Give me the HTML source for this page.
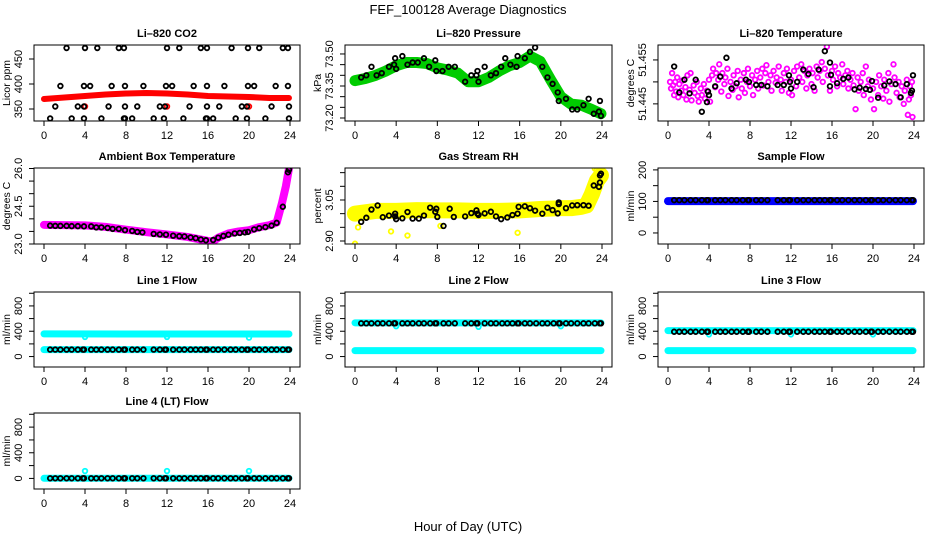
<!DOCTYPE html>
<html><head><meta charset="utf-8"><style>
html,body{margin:0;padding:0;background:#fff;}
svg{display:block;font-family:"Liberation Sans",sans-serif;}
</style></head><body>
<svg id="fig" width="936" height="540" viewBox="0 0 936 540" xmlns="http://www.w3.org/2000/svg">
<rect width="936" height="540" fill="#fff"/>
<text x="468" y="14" text-anchor="middle" font-size="13">FEF_100128  Average Diagnostics</text>
<text x="468" y="531" text-anchor="middle" font-size="13">Hour of Day (UTC)</text>
</svg>
<script>
const xTicks=[0,4,8,12,16,20,24];
const flowHours=[0.6,1.1,1.6,2.2,2.7,3.3,3.8,3.9,4.6,5.1,5.6,6.2,6.7,7.3,7.8,7.9,8.6,9.1,9.7,10.7,11.3,11.8,11.9,12.6,13.2,13.7,14.3,14.8,15.3,15.8,15.9,16.5,17.0,17.6,18.2,18.7,19.3,19.8,19.9,20.5,21.0,21.6,22.2,22.7,23.3,23.8,23.9];
// CO2
const co2RedHours=[0,2,4,6,8,10,12,14,16,18,20,22,23.9];
const co2RedVals=[370,373,376,379,381,382,381,379,376,375,374,372,372];
const co2RedPtsHours=[4,12,20];
const co2RedPtsVals=[355,355,355];
const co2BlackHours=[2.2,4,5.2,7.3,7.8,12,13.2,15.3,15.9,18.3,19.9,21,23.3,23.8,1.6,3.9,4.5,6.6,7.9,9.7,11.9,12.5,14.6,15.9,17.6,19.9,20.5,22.6,23.8,1.1,3.3,3.9,6.3,7.9,9.1,11.3,11.8,14.2,15.9,17.1,19.3,19.8,22.2,23.9,0.6,2.7,3.9,5.6,7.8,7.9,8.6,10.7,11.7,13.6,15.8,15.9,16.5,18.7,19.8,21.6,23.9];
const co2BlackVals=[472,472,472,472,472,472,472,472,472,472,472,472,472,472,396,396,396,396,396,396,396,396,396,396,396,396,396,396,396,355,355,355,355,355,355,355,355,355,355,355,355,355,355,355,331,331,331,331,331,331,331,331,331,331,331,331,331,331,331,331,331];
// Pressure
const presHours=[0,1,2,3,4,5,6,7,8,9,10,11,12,13,14,15,16,17,18,19,20,21,22,23,23.9];
const presVals=[73.375,73.385,73.40,73.42,73.445,73.46,73.46,73.455,73.435,73.425,73.41,73.37,73.37,73.39,73.42,73.445,73.46,73.49,73.465,73.38,73.30,73.265,73.26,73.24,73.22];
const presBlackHours=[0.6,1.1,1.6,2.1,2.6,3.3,3.8,3.9,4,4.6,5.1,5.6,6.1,6.7,7.2,7.8,7.9,8.5,9.1,9.7,10.7,11.3,11.8,11.9,12,12.6,13.2,13.7,14.2,14.6,15.1,15.7,15.8,16.5,17,17.5,18.2,18.7,19.2,19.7,19.8,20.5,21.1,21.6,22.2,22.7,23.2,23.7,23.8,23.9];
const presBlackVals=[73.39,73.40,73.44,73.40,73.41,73.44,73.45,73.48,73.43,73.49,73.45,73.46,73.46,73.48,73.44,73.47,73.42,73.42,73.44,73.44,73.37,73.40,73.40,73.42,73.37,73.44,73.40,73.41,73.44,73.48,73.45,73.44,73.49,73.48,73.51,73.53,73.44,73.39,73.36,73.32,73.28,73.29,73.24,73.24,73.26,73.29,73.22,73.23,73.28,73.21];
// Li-820 temperature
const tempMagHours=[0.2,0.3,0.4,0.5,0.6,0.7,0.8,0.9,1.0,1.1,1.3,1.4,1.5,1.7,1.8,1.9,2.1,2.2,2.3,2.5,2.6,2.8,2.9,3.0,3.2,3.3,3.5,3.6,3.8,4.0,4.1,4.3,4.4,4.6,4.7,4.9,5.0,5.2,5.3,5.5,5.6,5.8,5.9,6.1,6.3,6.4,6.6,6.8,6.9,7.1,7.2,7.4,7.5,7.7,7.8,8.0,8.2,8.3,8.5,8.7,8.8,9.0,9.2,9.3,9.5,9.6,9.8,10.0,10.1,10.3,10.5,10.6,10.8,11.0,11.1,11.3,11.5,11.6,11.8,12.0,12.1,12.3,12.5,12.6,12.8,13.0,13.1,13.3,13.5,13.6,13.8,14.0,14.1,14.3,14.5,14.6,14.8,15.0,15.1,15.3,15.5,15.6,15.8,16.0,16.1,16.3,16.5,16.6,16.8,17.0,17.1,17.3,17.5,17.6,17.8,18.0,18.1,18.3,18.5,18.6,18.8,19.0,19.1,19.3,19.5,19.6,19.8,20.0,20.1,20.3,20.5,20.6,20.8,21.0,21.1,21.3,21.5,21.6,21.8,22.0,22.1,22.3,22.5,22.6,22.8,23.0,23.1,23.3,23.4,23.5,23.6,23.7,23.8,23.85];
const tempMagVals=[51.4500,51.4485,51.4520,51.4492,51.4470,51.4500,51.4478,51.4510,51.4465,51.4495,51.4480,51.4503,51.4470,51.4488,51.4460,51.4515,51.4482,51.4520,51.4458,51.4492,51.4475,51.4500,51.4468,51.4455,51.4485,51.4470,51.4495,51.4462,51.4480,51.4505,51.4455,51.4515,51.4530,51.4488,51.4520,51.4505,51.4540,51.4478,51.4520,51.4495,51.4510,51.4530,51.4468,51.4500,51.4482,51.4515,51.4490,51.4525,51.4465,51.4505,51.4485,51.4520,51.4475,51.4500,51.4530,51.4490,51.4515,51.4470,51.4505,51.4525,51.4485,51.4510,51.4530,51.4492,51.4520,51.4538,51.4500,51.4515,51.4480,51.4525,51.4498,51.4510,51.4535,51.4505,51.4480,51.4520,51.4500,51.4530,51.4475,51.4505,51.4470,51.4525,51.4490,51.4535,51.4510,51.4540,51.4500,51.4525,51.4485,51.4515,51.4530,51.4495,51.4520,51.4480,51.4535,51.4510,51.4525,51.4545,51.4500,51.4530,51.4580,51.4515,51.4480,51.4525,51.4505,51.4535,51.4490,51.4520,51.4510,51.4540,51.4495,51.4515,51.4525,51.4485,51.4505,51.4520,51.4492,51.4438,51.4510,51.4480,51.4500,51.4520,51.4470,51.4535,51.4490,51.4505,51.4460,51.4485,51.4438,51.4500,51.4470,51.4515,51.4490,51.4462,51.4505,51.4480,51.4520,51.4455,51.4495,51.4540,51.4510,51.4475,51.4500,51.4465,51.4490,51.4450,51.4480,51.4505,51.4425,51.4460,51.4490,51.4470,51.4500,51.4420];
const tempBlackHours=[0.6,1.1,1.6,2.1,2.7,3.3,3.8,3.9,4.0,4.6,5.1,5.7,6.2,6.7,7.6,7.9,8.6,9.1,9.7,10.7,11.3,11.8,11.9,12,12.6,13.2,13.7,14.2,14.7,15.3,15.8,15.9,15.8,16.5,17.1,17.6,18.2,18.7,19.3,19.7,19.9,20.5,21.1,21.6,22.2,22.7,23.3,23.7,23.8,23.9];
const tempBlackVals=[51.4535,51.4476,51.4505,51.4474,51.4505,51.4432,51.4454,51.4478,51.4470,51.4490,51.4512,51.4555,51.4485,51.4497,51.4505,51.4500,51.4493,51.4493,51.4490,51.4493,51.4493,51.4515,51.4500,51.4485,51.4500,51.4528,51.4518,51.4488,51.4528,51.4570,51.4544,51.4516,51.4490,51.4497,51.4507,51.4510,51.4483,51.4487,51.4484,51.4482,51.4502,51.4464,51.4492,51.4501,51.4495,51.4465,51.4495,51.4475,51.4480,51.4515];
// Ambient
const ambHours=[0,2,4,6,8,10,12,14,16,16.5,17,18,19,20,21,22,22.7,23.2,23.6,23.9];
const ambVals=[23.76,23.75,23.74,23.68,23.57,23.47,23.38,23.28,23.12,23.1,23.25,23.42,23.5,23.55,23.67,23.75,23.85,24.6,25.3,26.0];
const ambBlackHours=[0.6,1.1,1.6,2.2,2.7,3.3,3.9,4.6,5.1,5.6,6.2,6.7,7.3,7.9,8.6,9.1,9.6,10.7,11.3,11.9,12.6,13.2,13.7,14.3,14.8,15.3,15.8,16.5,17.0,17.5,18.0,18.6,19.1,19.6,19.9,20.5,21.0,21.6,22.2,22.7,23.3,23.8,23.9];
const ambBlackVals=[23.73,23.72,23.72,23.72,23.71,23.71,23.7,23.7,23.66,23.66,23.64,23.6,23.6,23.55,23.52,23.48,23.46,23.4,23.38,23.37,23.33,23.31,23.3,23.26,23.23,23.18,23.15,23.16,23.25,23.32,23.37,23.42,23.44,23.46,23.48,23.58,23.63,23.67,23.73,23.84,24.48,25.85,25.95];
// RH
const rhHours=[0,2,4,6,8,10,12,14,16,18,20,21,22,22.5,23,23.5,23.9];
const rhVals=[3.0,3.01,3.01,3.013,3.012,3.012,3.01,3.01,3.012,3.017,3.02,3.02,3.025,3.03,3.07,3.12,3.14];
const rhYelPtsHours=[0,0.3,3.5,5.1,8.3,15.8,23.3,23.5,22.7,23.0];
const rhYelPtsVals=[2.89,2.95,2.935,2.92,2.955,2.93,3.165,3.16,3.06,3.09];
const rhBlackHours=[0.6,1.1,1.6,2.2,2.7,3.3,3.9,3.9,4,4.6,5.1,5.6,6.2,6.7,7.3,7.8,7.9,8.0,8.6,9.2,9.6,10.7,11.3,11.8,11.9,12.0,12.6,13.2,13.7,14.2,14.8,15.3,15.8,15.9,16.5,17,17.5,18.2,18.7,19.2,19.7,19.8,19.8,20.5,21.1,21.6,22.2,22.7,23.2,23.7,23.8,23.9,23.8];
const rhBlackVals=[2.97,2.985,3.015,3.03,2.987,2.993,2.99,3.0,2.98,2.983,3.006,2.982,2.982,2.993,3.022,3.007,3.018,2.988,2.955,3.018,2.988,2.99,3.002,3.012,3.0,2.995,3.001,3.007,2.99,2.98,2.986,2.995,3.0,3.025,3.027,3.02,3.011,3.0,3.022,3.013,3.001,3.035,3.041,3.02,3.03,3.031,3.031,3.029,3.103,3.098,3.114,3.146,3.14];
// Flows
const sampleBlueVals=[101,101];
const sampleBlackLevel=[104];
const line1CyanHi=[358,356];
const line1CyanLo=[110,110];
const line1Black=[110];
const line1Dips=[310,310,300];
const line2CyanHi=[533,533];
const line2CyanLo=[94,94];
const line2Black=[525];
const line2Dips=[480,470,480];
const line3CyanHi=[410,410];
const line3CyanLo=[94,94];
const line3Black=[392];
const line3Dips=[350,350,350];
const line4Cyan=[2,2];
const line4Black=[2];
const line4Outliers=[115,115,115];
const dipHours=[4,12,20];
const bandEnds=[0,23.9];

const NS="http://www.w3.org/2000/svg";
const svg=document.getElementById('fig');
function mk(tag,attrs,parent){const e=document.createElementNS(NS,tag);for(const k in attrs)e.setAttribute(k,attrs[k]);(parent||svg).appendChild(e);return e;}

function panel(cfg){
  const g=mk('g',{});
  
  
  const [L,T,R,B]=cfg.box;
  const xs=h=>L+10+(h/24)*(R-L-20);
  const ys=v=>B-(v-cfg.yMin)/(cfg.yMax-cfg.yMin)*(B-T);
  const clip='c'+cfg.name;
  const cp=mk('clipPath',{id:clip},g);mk('rect',{x:L,y:T,width:R-L,height:B-T},cp);
  const plot=mk('g',{'clip-path':'url(#'+clip+')'},g);
  cfg.layers.forEach(ly=>{
    if(ly.type==='band'){
      const pts=ly.h.map((h,i)=>xs(h)+','+ys(ly.v[i])).join(' ');
      const pl=mk('polyline',{points:pts,fill:'none',stroke:ly.color,'stroke-width':ly.w,'stroke-linecap':'round','stroke-linejoin':'round'},plot);
      
      
    } else {
      ly.h.forEach((h,i)=>{
        const c=mk('circle',{cx:xs(h),cy:ys(ly.v[i]),r:2.3,fill:'none',stroke:ly.color,'stroke-width':1.8},plot);
        
        
      });
    }
  });
  const box=mk('rect',{x:L,y:T,width:R-L,height:B-T,fill:'none',stroke:'#000','stroke-width':1},g);
  
  
  xTicks.forEach(t=>{
    mk('line',{x1:xs(t),x2:xs(t),y1:B,y2:B+5,stroke:'#000'},g);
    const tx=mk('text',{x:xs(t),y:B+18,'text-anchor':'middle','font-size':11},g);
    tx.textContent=t;
    
    
  });
  cfg.yTicks.forEach(t=>mk('line',{x1:L-5,x2:L,y1:ys(t),y2:ys(t),stroke:'#000'},g));
  cfg.yLabels.forEach((t,i)=>{
    const y=ys(t);
    const tx=mk('text',{x:L-12,y:y,'text-anchor':'middle','font-size':11,transform:'rotate(-90 '+(L-12)+' '+y+')'},g);
    tx.textContent=cfg.yLabelText[i];
    
    
  });
  const yc=(T+B)/2;
  const yt=mk('text',{x:L-24,y:yc,'text-anchor':'middle','font-size':10.5,transform:'rotate(-90 '+(L-24)+' '+yc+')'},g);
  yt.textContent=cfg.ylab;
  
  
  const ti=mk('text',{x:(L+R)/2,y:T-8,'text-anchor':'middle','font-size':11,'font-weight':'bold'},g);
  ti.textContent=cfg.title;
  
  
}
const C1=[34,300],C2=[345,612],C3=[658,924];
const R1=[45,121],R2=[168,244],R3=[292,367],R4=[413,489];
const fb=(c,r)=>[c[0],r[0],c[1],r[1]];
const rep=(a,n)=>Array(n).fill(a[0]);
const flowTicks=[0,200,400,600,800,1000];

panel({name:'co2-panel',title:'Li\u2013820 CO2',ylab:'Licor ppm',box:fb(C1,R1),yMin:326,yMax:478,
 yTicks:[350,400,450],yLabels:[350,400,450],yLabelText:['350','400','450'],
 layers:[{type:'band',h:co2RedHours,v:co2RedVals,color:'#f00',w:6,label:'co2-series'},
  {type:'pts',h:co2RedPtsHours,v:co2RedPtsVals,color:'#f00',label:'co2-point'},
  {type:'pts',h:co2BlackHours,v:co2BlackVals,color:'#000',label:'co2-avg-point'}]});
panel({name:'pressure-panel',title:'Li\u2013820 Pressure',ylab:'kPa',box:fb(C2,R1),yMin:73.186,yMax:73.542,
 yTicks:[73.2,73.25,73.3,73.35,73.4,73.45,73.5],yLabels:[73.2,73.35,73.5],yLabelText:['73.20','73.35','73.50'],
 layers:[{type:'band',h:presHours,v:presVals,color:'#0c0',w:11,label:'pressure-series'},
  {type:'pts',h:presBlackHours,v:presBlackVals,color:'#000',label:'pressure-avg-point'}]});
panel({name:'li820-temp-panel',title:'Li\u2013820 Temperature',ylab:'degrees C',box:fb(C3,R1),yMin:51.4411,yMax:51.4584,
 yTicks:[51.445,51.45,51.455],yLabels:[51.445,51.455],yLabelText:['51.445','51.455'],
 layers:[{type:'pts',h:tempMagHours,v:tempMagVals,color:'#f0f',label:'temp-point'},
  {type:'pts',h:tempBlackHours,v:tempBlackVals,color:'#000',label:'temp-avg-point'}]});
panel({name:'ambient-temp-panel',title:'Ambient Box Temperature',ylab:'degrees C',box:fb(C1,R2),yMin:23.0,yMax:26.02,
 yTicks:[23,23.5,24,24.5,25,25.5,26],yLabels:[23,24.5,26],yLabelText:['23.0','24.5','26.0'],
 layers:[{type:'band',h:ambHours,v:ambVals,color:'#f0f',w:8,label:'ambient-series'},
  {type:'pts',h:ambBlackHours,v:ambBlackVals,color:'#000',label:'ambient-avg-point'}]});
panel({name:'rh-panel',title:'Gas Stream RH',ylab:'percent',box:fb(C2,R2),yMin:2.889,yMax:3.167,
 yTicks:[2.9,2.95,3.0,3.05,3.1,3.15],yLabels:[2.9,3.05],yLabelText:['2.90','3.05'],
 layers:[{type:'band',h:rhHours,v:rhVals,color:'#ff0',w:16,label:'rh-series'},
  {type:'pts',h:rhYelPtsHours,v:rhYelPtsVals,color:'#ff0',label:'rh-point'},
  {type:'pts',h:rhBlackHours,v:rhBlackVals,color:'#000',label:'rh-avg-point'}]});
panel({name:'sample-flow-panel',title:'Sample Flow',ylab:'ml/min',box:fb(C3,R2),yMin:-35,yMax:206,
 yTicks:[0,50,100,150,200],yLabels:[0,100,200],yLabelText:['0','100','200'],
 layers:[{type:'band',h:bandEnds,v:sampleBlueVals,color:'#00f',w:8,label:'sample-flow-series'},
  {type:'pts',h:flowHours,v:rep(sampleBlackLevel,flowHours.length),color:'#000',label:'sample-flow-avg-point'}]});
const flowPanel=(name,title,box,hi,lo,blk,dips)=>{
 const layers=[];
 if(hi)layers.push({type:'band',h:bandEnds,v:hi,color:'#0ff',w:7,label:'flow-high-series'});
 layers.push({type:'band',h:bandEnds,v:lo,color:'#0ff',w:7,label:'flow-low-series'});
 layers.push({type:'pts',h:dipHours,v:dips,color:'#0ff',label:'flow-outlier'});
 layers.push({type:'pts',h:flowHours,v:rep(blk,flowHours.length),color:'#000',label:'flow-avg-point'});
 panel({name,title,ylab:'ml/min',box,yMin:-165,yMax:1020,yTicks:flowTicks,yLabels:[0,400,800],yLabelText:['0','400','800'],layers});
};
flowPanel('line1-flow-panel','Line 1 Flow',fb(C1,R3),line1CyanHi,line1CyanLo,line1Black,line1Dips);
flowPanel('line2-flow-panel','Line 2 Flow',fb(C2,R3),line2CyanHi,line2CyanLo,line2Black,line2Dips);
flowPanel('line3-flow-panel','Line 3 Flow',fb(C3,R3),line3CyanHi,line3CyanLo,line3Black,line3Dips);
flowPanel('line4-flow-panel','Line 4 (LT) Flow',fb(C1,R4),null,line4Cyan,line4Black,line4Outliers);
</script>
</body></html>
